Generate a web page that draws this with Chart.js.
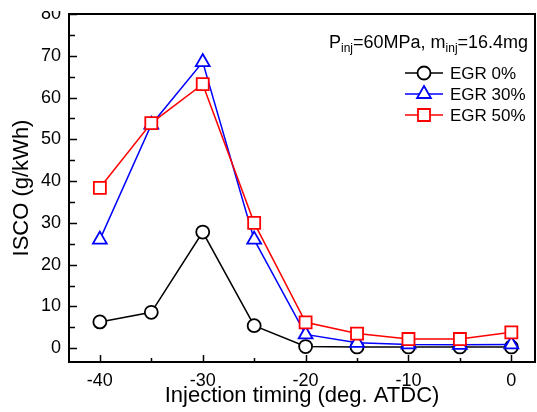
<!DOCTYPE html>
<html>
<head>
<meta charset="utf-8">
<script src="https://cdn.jsdelivr.net/npm/chart.js@4"></script>
<style>
  html, body { margin: 0; padding: 0; background: #fff; }
  #wrap { width: 537px; height: 412px; }
</style>
</head>
<body>
<div id="wrap"><canvas id="coChart" width="537" height="412"></canvas></div>
<script>
// Injection timing (deg. ATDC) and ISCO (g/kWh)
const timing = [-40, -35, -30, -25, -20, -15, -10, -5, 0];
const egr0 = [6.3, 8.6, 27.8, 5.4, 0.4, 0.3, 0.3, 0.3, 0.3];
const egr30 = [26, 53.5, 68.5, 26, 3.3, 1.3, 0.9, 0.8, 0.9];
const egr50 = [38.4, 53.9, 63.2, 30, 6.2, 3.5, 2.2, 2.2, 3.8];
const seriesLabels = ['EGR 0%', 'EGR 30%', 'EGR 50%'];

const xTicks = [-40, -35, -30, -25, -20, -15, -10, -5, 0];
const yTicks = [0, 5, 10, 15, 20, 25, 30, 35, 40, 45, 50, 55, 60, 65, 70, 75, 80];

const FONT = "'Liberation Sans', Arial, sans-serif";

function toPoints(values) {
    return timing.map((t, i) => ({ x: t, y: values[i] }));
}

// frame, inward ticks, annotation and legend
const framePlugin = {
    id: 'framePlugin',
    afterDraw(chart) {
        const ctx = chart.ctx;
        const area = chart.chartArea;
        const xs = chart.scales.x;
        const ys = chart.scales.y;
        ctx.save();
        ctx.strokeStyle = '#000';
        ctx.lineWidth = 2;
        ctx.beginPath();
        ctx.moveTo(area.left, area.top);
        ctx.lineTo(area.right, area.top);
        ctx.lineTo(area.right, area.bottom);
        ctx.stroke();

        ctx.lineWidth = 1.5;
        ctx.beginPath();
        yTicks.forEach(v => {
            const y = Math.round(ys.getPixelForValue(v)) + 0.5;
            const len = v % 10 === 0 ? 8 : 6;
            ctx.moveTo(area.left, y);
            ctx.lineTo(area.left + len, y);
        });
        xTicks.forEach(v => {
            const x = Math.round(xs.getPixelForValue(v)) + 0.5;
            const len = v % 10 === 0 ? 7 : 4;
            ctx.moveTo(x, area.bottom);
            ctx.lineTo(x, area.bottom - len);
        });
        ctx.stroke();

        // cut the top label like the source figure
        ctx.fillStyle = '#fff';
        ctx.fillRect(0, 0, area.left - 2, 11);

        // condition text with subscripts
        ctx.fillStyle = '#000';
        ctx.textBaseline = 'alphabetic';
        ctx.textAlign = 'left';
        let x = 329;
        const base = 48;
        const parts = [
            ['P', false], ['inj', true], ['=60MPa, m', false], ['inj', true], ['=16.4mg', false]
        ];
        parts.forEach(([txt, sub]) => {
            ctx.font = (sub ? '12px ' : '18px ') + FONT;
            ctx.fillText(txt, x, sub ? base + 4 : base);
            x += ctx.measureText(txt).width;
        });

        // legend
        const rows = [73, 94, 115];
        chart.data.datasets.forEach((ds, i) => {
            const y = rows[i];
            ctx.strokeStyle = ds.borderColor;
            ctx.lineWidth = 1.5;
            ctx.beginPath();
            ctx.moveTo(405, y);
            ctx.lineTo(443, y);
            ctx.stroke();
            ctx.fillStyle = '#fff';
            ctx.lineWidth = ds.pointBorderWidth;
            Chart.helpers.drawPoint(ctx, {
                pointStyle: ds.pointStyle,
                radius: ds.pointRadius,
                borderWidth: ds.pointBorderWidth,
                rotation: 0
            }, 424, y);
            ctx.fillStyle = '#000';
            ctx.font = '17px ' + FONT;
            ctx.textBaseline = 'middle';
            ctx.fillText(seriesLabels[i], 450, y + 1);
        });
        ctx.restore();
    }
};

const common = {
    borderWidth: 1.5,
    pointBorderWidth: 1.8,
    pointBackgroundColor: '#fff',
    pointHoverRadius: 7,
    tension: 0,
    fill: false
};

new Chart(document.getElementById('coChart').getContext('2d'), {
    type: 'line',
    data: {
        datasets: [
            Object.assign({
                label: seriesLabels[0],
                data: toPoints(egr0),
                borderColor: '#000000',
                pointBorderColor: '#000000',
                pointStyle: 'circle',
                pointRadius: 6.5,
                order: 3
            }, common),
            Object.assign({
                label: seriesLabels[1],
                data: toPoints(egr30),
                borderColor: '#0000ff',
                pointBorderColor: '#0000ff',
                pointStyle: 'triangle',
                pointRadius: 8,
                order: 2
            }, common),
            Object.assign({
                label: seriesLabels[2],
                data: toPoints(egr50),
                borderColor: '#ff0000',
                pointBorderColor: '#ff0000',
                pointStyle: 'rect',
                pointRadius: 8.5,
                order: 1
            }, common)
        ]
    },
    options: {
        responsive: false,
        animation: false,
        clip: false,
        layout: { autoPadding: false, padding: { top: 14, right: 2, left: 0, bottom: 0 } },
        plugins: {
            legend: { display: false },
            tooltip: { enabled: false }
        },
        scales: {
            x: {
                type: 'linear',
                min: -43,
                max: 2.3,
                afterFit: s => {
                    s.height = 50;
                    s.paddingLeft = 0;
                    s.paddingRight = 0;
                },
                afterBuildTicks: s => { s.ticks = xTicks.map(v => ({ value: v })); },
                grid: { display: false, drawTicks: false },
                border: { display: true, color: '#000', width: 2 },
                ticks: {
                    color: '#000',
                    padding: 8,
                    maxRotation: 0,
                    autoSkip: false,
                    font: { family: FONT, size: 18 },
                    callback: v => (v % 10 === 0 ? String(v) : '')
                },
                title: {
                    display: true,
                    text: 'Injection timing (deg. ATDC)',
                    color: '#000',
                    font: { family: FONT, size: 22 },
                    padding: { top: 0, bottom: 3 }
                }
            },
            y: {
                min: -3.3,
                max: 80,
                afterFit: s => {
                    s.width = 69;
                    s.paddingTop = 0;
                    s.paddingBottom = 0;
                },
                afterBuildTicks: s => { s.ticks = yTicks.map(v => ({ value: v })); },
                grid: { display: false, drawTicks: false },
                border: { display: true, color: '#000', width: 2 },
                ticks: {
                    color: '#000',
                    padding: 8,
                    autoSkip: false,
                    font: { family: FONT, size: 18 },
                    callback: v => (v % 10 === 0 ? String(v) : '')
                },
                title: {
                    display: true,
                    text: 'ISCO (g/kWh)',
                    color: '#000',
                    font: { family: FONT, size: 22 },
                    padding: { top: 9, bottom: 0 }
                }
            }
        }
    },
    plugins: [framePlugin]
});
</script>
</body>
</html>
